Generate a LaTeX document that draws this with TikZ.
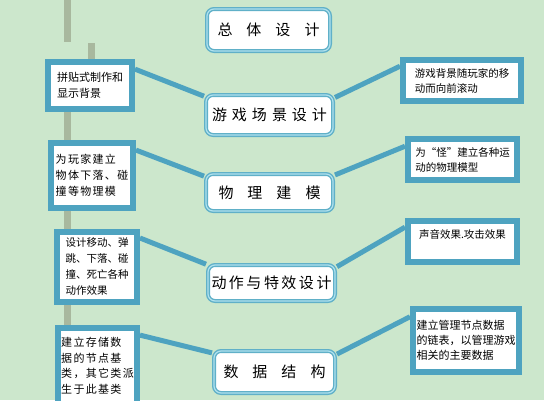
\documentclass[tikz,border=0pt]{standalone}
\usepackage{fontspec}
\newfontfamily\cjk{Noto Sans CJK SC}
\definecolor{bg}{RGB}{204,231,204}
\definecolor{teal1}{RGB}{78,163,192}
\definecolor{tealc}{RGB}{96,176,200}
\definecolor{lightring}{RGB}{175,225,238}
\definecolor{grayline}{RGB}{168,184,158}
\pgfdeclarelayer{back}
\pgfdeclarelayer{lines}
\pgfsetlayers{back,lines,main}
\tikzset{
  leftbox/.style={draw=teal1, line width=6pt, fill=white, inner sep=0pt, align=left,
    font=\fontsize{11}{15.5}\selectfont\cjk},
  rightbox/.style={draw=teal1, line width=6pt, fill=white, inner sep=0pt, align=left,
    font=\fontsize{10.5}{15}\selectfont\cjk},
  centerbox/.style={draw=tealc, line width=4pt, fill=white, rounded corners=7pt, inner sep=0pt,
    font=\fontsize{15}{18}\selectfont\cjk,
    postaction={draw=lightring, line width=1.2pt}},
  conn/.style={draw=teal1, line width=5pt},
  gline/.style={draw=grayline, line width=7pt}
}
\begin{document}
\begin{tikzpicture}[x=1pt,y=-1pt]
\begin{pgfonlayer}{back}
\fill[bg] (0,0) rectangle (544,400);
\end{pgfonlayer}
\useasboundingbox (0,0) rectangle (544,400);
% gray guide lines
\coordinate (g1) at (67,0);
\coordinate (g2) at (67,42);
\coordinate (g3) at (91,43);
% nodes
\node[leftbox, minimum width=84pt, minimum height=47pt] (L1) at (90,85.5)
  {拼贴式制作和\\显示背景};
\node[leftbox, minimum width=82pt, minimum height=65pt, font=\fontsize{11}{16}\selectfont\cjk\addfontfeature{LetterSpace=12}] (L2) at (92,175.5)
  {为玩家建立\\物体下落、碰\\撞等物理模};
\node[leftbox, minimum width=80pt, minimum height=70pt, font=\fontsize{10.5}{16}\selectfont\cjk] (L3) at (97,267)
  {设计移动、弹\\跳、下落、碰\\撞、死亡各种\\动作效果};
\node[leftbox, minimum width=79pt, minimum height=76pt, font=\fontsize{11}{15.5}\selectfont\cjk\addfontfeature{LetterSpace=12}] (L4) at (97.5,366)
  {建立存储数\\据的节点基\\类，其它类派\\生于此基类};
\node[centerbox, minimum width=123pt, minimum height=42pt] (C1) at (268.5,30)
  {总\hspace{14pt}体\hspace{14pt}设\hspace{14pt}计};
\node[centerbox, minimum width=127pt, minimum height=40pt] (C2) at (269.5,115)
  {游\hspace{5pt}戏\hspace{5pt}场\hspace{5pt}景\hspace{5pt}设\hspace{5pt}计};
\node[centerbox, minimum width=127pt, minimum height=37pt] (C3) at (269.5,192.5)
  {物\hspace{14pt}理\hspace{14pt}建\hspace{14pt}模};
\node[centerbox, minimum width=127pt, minimum height=36pt] (C4) at (271.5,283)
  {动\hspace{2.5pt}作\hspace{2.5pt}与\hspace{2.5pt}特\hspace{2.5pt}效\hspace{2.5pt}设\hspace{2.5pt}计};
\node[centerbox, minimum width=121pt, minimum height=42pt] (C5) at (274.5,372)
  {数\hspace{14pt}据\hspace{14pt}结\hspace{14pt}构};
\node[rightbox, minimum width=118pt, minimum height=41pt] (R1) at (462,80.5)
  {游戏背景随玩家的移\\动而向前滚动};
\node[rightbox, minimum width=109pt, minimum height=41pt] (R2) at (462.5,159.5)
  {为“怪”建立各种运\\动的物理模型};
\node[rightbox, minimum width=109pt, minimum height=41pt] (R3) at (462.5,241.5)
  {声音效果.攻击效果\\\mbox{}};
\node[rightbox, minimum width=106pt, minimum height=63pt, font=\fontsize{11}{15}\selectfont\cjk] (R4) at (466,340.5)
  {建立管理节点数据\\的链表，以管理游戏\\相关的主要数据};
\begin{pgfonlayer}{lines}
% gray links
\draw[gline] (g1) -- (g2);
\draw[gline] (g3) -- (g3 |- L1.north);
\draw[gline] (L1.south -| g1) -- (L2.north -| g1);
\draw[gline] (L2.south -| g1) -- (L3.north -| g1);
\draw[gline] (L3.south -| g1) -- (L4.north -| g1);
% connectors
\draw[conn] (L1.20) -- (C2.164);
\draw[conn] (L2.30) -- (C3.166);
\draw[conn] (C2.15) -- (R1.167);
\draw[conn] (C3.15) -- (R2.167);
\draw[conn] (L3.34) -- (C4.164);
\draw[conn] (C4.14) -- (R3.166);
\draw[conn] (L4.36) -- (C5.163);
\draw[conn] (C5.16) -- (R4.157);
\end{pgfonlayer}
\end{tikzpicture}
\end{document}
